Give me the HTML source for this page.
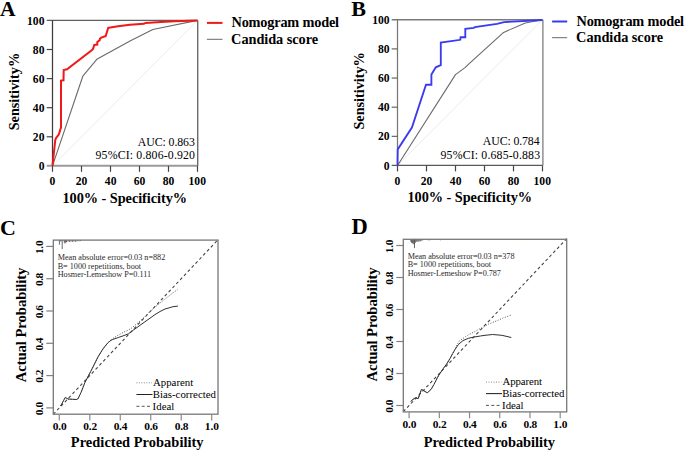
<!DOCTYPE html>
<html><head><meta charset="utf-8"><style>
html,body{margin:0;padding:0;background:#fff;width:685px;height:451px;overflow:hidden;}
svg{display:block;}
text{font-family:"Liberation Serif",serif;}
</style></head><body>
<svg width="685" height="451" viewBox="0 0 685 451" font-family="Liberation Serif">
<rect width="685" height="451" fill="#fff"/>
<line x1="52.50" y1="165.90" x2="197.50" y2="20.40" stroke="#e4e4e4" stroke-width="0.8" />
<line x1="46.70" y1="20.40" x2="197.50" y2="20.40" stroke="#606060" stroke-width="1.15" />
<line x1="197.70" y1="20.40" x2="197.70" y2="165.90" stroke="#6a6a6a" stroke-width="1.4" />
<line x1="52.50" y1="20.40" x2="52.50" y2="165.90" stroke="#3c3c3c" stroke-width="1.25" />
<line x1="46.70" y1="165.80" x2="197.50" y2="165.80" stroke="#9a9a9a" stroke-width="2.0" />
<text x="38.63" y="170.00" font-size="11.6" font-weight="bold" text-anchor="start" fill="#000">0</text>
<line x1="52.50" y1="165.90" x2="52.50" y2="171.80" stroke="#444" stroke-width="1.2" />
<text x="49.60" y="184.60" font-size="11.6" font-weight="bold" text-anchor="start" fill="#000">0</text>
<line x1="46.70" y1="136.80" x2="52.50" y2="136.80" stroke="#444" stroke-width="1.2" />
<text x="32.84" y="140.90" font-size="11.6" font-weight="bold" text-anchor="start" fill="#000">20</text>
<line x1="81.50" y1="165.90" x2="81.50" y2="171.80" stroke="#444" stroke-width="1.2" />
<text x="75.67" y="184.60" font-size="11.6" font-weight="bold" text-anchor="start" fill="#000">20</text>
<line x1="46.70" y1="107.70" x2="52.50" y2="107.70" stroke="#444" stroke-width="1.2" />
<text x="32.84" y="111.80" font-size="11.6" font-weight="bold" text-anchor="start" fill="#000">40</text>
<line x1="110.50" y1="165.90" x2="110.50" y2="171.80" stroke="#444" stroke-width="1.2" />
<text x="104.84" y="184.60" font-size="11.6" font-weight="bold" text-anchor="start" fill="#000">40</text>
<line x1="46.70" y1="78.60" x2="52.50" y2="78.60" stroke="#444" stroke-width="1.2" />
<text x="32.84" y="82.70" font-size="11.6" font-weight="bold" text-anchor="start" fill="#000">60</text>
<line x1="139.50" y1="165.90" x2="139.50" y2="171.80" stroke="#444" stroke-width="1.2" />
<text x="133.71" y="184.60" font-size="11.6" font-weight="bold" text-anchor="start" fill="#000">60</text>
<line x1="46.70" y1="49.50" x2="52.50" y2="49.50" stroke="#444" stroke-width="1.2" />
<text x="32.84" y="53.60" font-size="11.6" font-weight="bold" text-anchor="start" fill="#000">80</text>
<line x1="168.50" y1="165.90" x2="168.50" y2="171.80" stroke="#444" stroke-width="1.2" />
<text x="162.73" y="184.60" font-size="11.6" font-weight="bold" text-anchor="start" fill="#000">80</text>
<text x="27.04" y="24.50" font-size="11.6" font-weight="bold" text-anchor="start" fill="#000">100</text>
<line x1="197.50" y1="165.90" x2="197.50" y2="171.80" stroke="#444" stroke-width="1.2" />
<text x="188.55" y="184.60" font-size="11.6" font-weight="bold" text-anchor="start" fill="#000">100</text>
<polyline points="52.50,165.90 82.80,76.20 96.80,59.30 130.00,40.90 152.80,29.50 197.50,20.40" fill="none" stroke="#6a6a6a" stroke-width="1.1" stroke-linejoin="round"/>
<polyline points="52.50,165.80 55.30,139.70 56.20,137.90 58.90,134.30 61.00,127.30 61.00,80.60 63.50,80.30 63.70,70.00 67.00,69.30 92.00,50.00 93.00,48.90 94.30,45.00 97.30,44.60 97.30,42.00 99.60,40.30 100.00,38.60 101.30,37.60 105.00,36.30 105.60,36.30 108.30,27.70 109.00,27.70 118.00,26.30 130.00,24.80 143.80,23.80 145.50,22.90 160.80,22.10 175.00,21.20 197.50,20.40" fill="none" stroke="#f01818" stroke-width="2" stroke-linejoin="miter"/>
<text x="137.78" y="145.60" font-size="11.8" text-anchor="start" fill="#000" textLength="57.08" lengthAdjust="spacing">AUC: 0.863</text>
<text x="95.52" y="159.30" font-size="11.8" text-anchor="start" fill="#000" textLength="99.51" lengthAdjust="spacing">95%CI: 0.806-0.920</text>
<line x1="397.50" y1="165.50" x2="542.50" y2="19.75" stroke="#e4e4e4" stroke-width="0.8" />
<line x1="391.70" y1="19.75" x2="542.50" y2="19.75" stroke="#7a7a7a" stroke-width="1.4" />
<line x1="542.90" y1="19.75" x2="542.90" y2="165.50" stroke="#888" stroke-width="1.4" />
<line x1="397.50" y1="19.75" x2="397.50" y2="165.50" stroke="#777" stroke-width="1.25" />
<line x1="391.70" y1="165.45" x2="542.50" y2="165.45" stroke="#5a5a5a" stroke-width="1.25" />
<text x="383.83" y="169.60" font-size="11.6" font-weight="bold" text-anchor="start" fill="#000">0</text>
<line x1="397.50" y1="165.50" x2="397.50" y2="171.40" stroke="#444" stroke-width="1.2" />
<text x="394.60" y="184.50" font-size="11.6" font-weight="bold" text-anchor="start" fill="#000">0</text>
<line x1="391.70" y1="136.35" x2="397.50" y2="136.35" stroke="#666" stroke-width="1.2" />
<text x="378.03" y="140.45" font-size="11.6" font-weight="bold" text-anchor="start" fill="#000">20</text>
<line x1="426.50" y1="165.50" x2="426.50" y2="171.40" stroke="#444" stroke-width="1.2" />
<text x="420.67" y="184.50" font-size="11.6" font-weight="bold" text-anchor="start" fill="#000">20</text>
<line x1="391.70" y1="107.20" x2="397.50" y2="107.20" stroke="#666" stroke-width="1.2" />
<text x="378.04" y="111.30" font-size="11.6" font-weight="bold" text-anchor="start" fill="#000">40</text>
<line x1="455.50" y1="165.50" x2="455.50" y2="171.40" stroke="#444" stroke-width="1.2" />
<text x="449.85" y="184.50" font-size="11.6" font-weight="bold" text-anchor="start" fill="#000">40</text>
<line x1="391.70" y1="78.05" x2="397.50" y2="78.05" stroke="#666" stroke-width="1.2" />
<text x="378.03" y="82.15" font-size="11.6" font-weight="bold" text-anchor="start" fill="#000">60</text>
<line x1="484.50" y1="165.50" x2="484.50" y2="171.40" stroke="#444" stroke-width="1.2" />
<text x="478.71" y="184.50" font-size="11.6" font-weight="bold" text-anchor="start" fill="#000">60</text>
<line x1="391.70" y1="48.90" x2="397.50" y2="48.90" stroke="#666" stroke-width="1.2" />
<text x="378.03" y="53.00" font-size="11.6" font-weight="bold" text-anchor="start" fill="#000">80</text>
<line x1="513.50" y1="165.50" x2="513.50" y2="171.40" stroke="#444" stroke-width="1.2" />
<text x="507.73" y="184.50" font-size="11.6" font-weight="bold" text-anchor="start" fill="#000">80</text>
<text x="372.24" y="23.85" font-size="11.6" font-weight="bold" text-anchor="start" fill="#000">100</text>
<line x1="542.50" y1="165.50" x2="542.50" y2="171.40" stroke="#444" stroke-width="1.2" />
<text x="533.55" y="184.50" font-size="11.6" font-weight="bold" text-anchor="start" fill="#000">100</text>
<polyline points="397.50,165.50 455.50,74.60 465.00,67.60 470.00,62.90 503.60,32.40 525.30,23.00 542.50,19.75" fill="none" stroke="#6a6a6a" stroke-width="1.1" stroke-linejoin="round"/>
<polyline points="397.50,165.50 397.70,149.40 411.90,127.60 426.00,84.70 431.40,84.70 431.40,74.40 435.80,67.30 440.80,65.20 440.80,42.50 460.30,39.80 460.60,37.20 465.30,37.20 465.30,28.80 473.90,27.80 474.80,27.10 497.00,23.90 504.00,22.10 542.50,20.00" fill="none" stroke="#3a3af0" stroke-width="1.85" stroke-linejoin="miter"/>
<text x="482.78" y="145.40" font-size="11.8" text-anchor="start" fill="#000" textLength="56.79" lengthAdjust="spacing">AUC: 0.784</text>
<text x="440.52" y="159.10" font-size="11.8" text-anchor="start" fill="#000" textLength="99.54" lengthAdjust="spacing">95%CI: 0.685-0.883</text>
<line x1="206.90" y1="22.90" x2="222.50" y2="22.90" stroke="#f01818" stroke-width="2" />
<line x1="206.90" y1="39.30" x2="222.50" y2="39.30" stroke="#6a6a6a" stroke-width="1" />
<text x="231.51" y="27.30" font-size="14.3" font-weight="bold" text-anchor="start" fill="#000" textLength="107.54" lengthAdjust="spacing">Nomogram model</text>
<text x="231.12" y="44.10" font-size="14.3" font-weight="bold" text-anchor="start" fill="#000" textLength="86.96" lengthAdjust="spacing">Candida score</text>
<line x1="552.10" y1="21.50" x2="567.20" y2="21.50" stroke="#3a3af0" stroke-width="2" />
<line x1="552.10" y1="37.70" x2="567.20" y2="37.70" stroke="#6a6a6a" stroke-width="1" />
<text x="576.51" y="26.00" font-size="14.3" font-weight="bold" text-anchor="start" fill="#000" textLength="107.54" lengthAdjust="spacing">Nomogram model</text>
<text x="576.12" y="42.10" font-size="14.3" font-weight="bold" text-anchor="start" fill="#000" textLength="87.06" lengthAdjust="spacing">Candida score</text>
<text transform="translate(18.80 130.35) rotate(-90)" x="0" y="0" font-size="14.3" font-weight="bold" text-anchor="start" fill="#000" textLength="77.57" lengthAdjust="spacing">Sensitivity%</text>
<text transform="translate(363.80 129.55) rotate(-90)" x="0" y="0" font-size="14.3" font-weight="bold" text-anchor="start" fill="#000" textLength="77.37" lengthAdjust="spacing">Sensitivity%</text>
<text x="62.46" y="202.50" font-size="14.3" font-weight="bold" text-anchor="start" fill="#000" textLength="124.65" lengthAdjust="spacing">100% - Specificity%</text>
<text x="407.46" y="202.40" font-size="14.3" font-weight="bold" text-anchor="start" fill="#000" textLength="124.65" lengthAdjust="spacing">100% - Specificity%</text>
<text x="0.08" y="15.60" font-size="21.5" font-weight="bold" text-anchor="start" fill="#000" textLength="15.37" lengthAdjust="spacing">A</text>
<text x="351.31" y="15.80" font-size="22" font-weight="bold" text-anchor="start" fill="#000" textLength="14.88" lengthAdjust="spacing">B</text>
<text x="-0.14" y="234.90" font-size="22" font-weight="bold" text-anchor="start" fill="#000" textLength="17.44" lengthAdjust="spacing">C</text>
<text x="351.41" y="234.40" font-size="22.5" font-weight="bold" text-anchor="start" fill="#000" textLength="16.61" lengthAdjust="spacing">D</text>
<line x1="53.30" y1="414.26" x2="218.00" y2="239.72" stroke="#3c3c3c" stroke-width="1.05" stroke-dasharray="3 2.6"/>
<polyline points="60.50,406.00 62.10,403.40 63.50,400.60 65.30,397.40 66.30,398.10 68.10,399.00 72.70,399.30 76.30,399.50 78.00,398.80 81.20,392.10 84.80,382.80 90.70,371.50 98.30,356.40 103.00,348.90 107.00,344.00 111.30,339.40 118.30,335.10 124.00,332.00 127.70,330.40 131.70,328.00 135.00,325.30 138.30,322.60 145.00,316.50 150.00,311.50 155.00,307.00 160.00,303.00 163.90,300.00 168.90,296.00 172.00,293.50 177.50,289.70" fill="none" stroke="#555" stroke-width="1" stroke-dasharray="1 1.6"/>
<polyline points="60.50,406.00 62.10,403.40 63.50,400.60 65.30,397.40 66.30,398.10 68.10,399.00 72.70,399.30 76.30,399.50 78.00,398.80 81.20,392.10 84.80,382.80 90.70,371.50 98.30,356.40 103.00,348.90 107.00,343.80 109.80,341.00 112.90,339.40 118.30,337.50 123.00,335.90 128.40,333.80 133.80,329.80 141.00,324.60 148.00,319.60 155.00,314.60 160.00,311.50 165.00,309.00 168.00,308.20 172.90,306.70 177.90,306.10" fill="none" stroke="#303030" stroke-width="1.0" stroke-linejoin="round"/>
<line x1="59.40" y1="240.10" x2="59.40" y2="244.70" stroke="#444" stroke-width="0.8" />
<line x1="60.30" y1="240.10" x2="60.30" y2="241.30" stroke="#444" stroke-width="0.8" />
<line x1="61.20" y1="240.10" x2="61.20" y2="241.30" stroke="#444" stroke-width="0.8" />
<line x1="62.20" y1="240.10" x2="62.20" y2="249.10" stroke="#444" stroke-width="0.8" />
<line x1="64.30" y1="240.10" x2="64.30" y2="242.60" stroke="#444" stroke-width="0.8" />
<line x1="65.00" y1="240.10" x2="65.00" y2="243.50" stroke="#444" stroke-width="0.8" />
<line x1="65.70" y1="240.10" x2="65.70" y2="242.70" stroke="#444" stroke-width="0.8" />
<line x1="66.50" y1="240.10" x2="66.50" y2="242.10" stroke="#444" stroke-width="0.8" />
<line x1="68.00" y1="240.10" x2="68.00" y2="241.70" stroke="#444" stroke-width="0.8" />
<line x1="69.50" y1="240.10" x2="69.50" y2="241.90" stroke="#444" stroke-width="0.8" />
<line x1="71.00" y1="240.10" x2="71.00" y2="241.70" stroke="#444" stroke-width="0.8" />
<line x1="72.50" y1="240.10" x2="72.50" y2="241.90" stroke="#444" stroke-width="0.8" />
<line x1="74.00" y1="240.10" x2="74.00" y2="241.60" stroke="#444" stroke-width="0.8" />
<line x1="75.50" y1="240.10" x2="75.50" y2="241.70" stroke="#444" stroke-width="0.8" />
<line x1="77.00" y1="240.10" x2="77.00" y2="241.50" stroke="#444" stroke-width="0.8" />
<line x1="79.00" y1="240.10" x2="79.00" y2="241.30" stroke="#444" stroke-width="0.8" />
<line x1="80.50" y1="240.10" x2="80.50" y2="241.10" stroke="#444" stroke-width="0.8" />
<rect x="53.30" y="240.10" width="164.70" height="174.10" fill="none" stroke="#777" stroke-width="1.3"/>
<line x1="46.30" y1="407.90" x2="53.30" y2="407.90" stroke="#808080" stroke-width="1.2" />
<line x1="59.30" y1="414.20" x2="59.30" y2="420.60" stroke="#8a8a8a" stroke-width="1.2" />
<text transform="translate(43.20 415.13) rotate(-90)" x="0" y="0" font-size="11.4" font-weight="bold" text-anchor="start" fill="#000" textLength="13.25" lengthAdjust="spacing">0.0</text>
<text x="52.77" y="429.80" font-size="11.4" font-weight="bold" text-anchor="start" fill="#000" textLength="13.85" lengthAdjust="spacing">0.0</text>
<line x1="46.30" y1="375.60" x2="53.30" y2="375.60" stroke="#808080" stroke-width="1.2" />
<line x1="89.78" y1="414.20" x2="89.78" y2="420.60" stroke="#8a8a8a" stroke-width="1.2" />
<text transform="translate(43.20 382.83) rotate(-90)" x="0" y="0" font-size="11.4" font-weight="bold" text-anchor="start" fill="#000" textLength="13.31" lengthAdjust="spacing">0.2</text>
<text x="83.25" y="429.80" font-size="11.4" font-weight="bold" text-anchor="start" fill="#000" textLength="13.91" lengthAdjust="spacing">0.2</text>
<line x1="46.30" y1="343.30" x2="53.30" y2="343.30" stroke="#808080" stroke-width="1.2" />
<line x1="120.26" y1="414.20" x2="120.26" y2="420.60" stroke="#8a8a8a" stroke-width="1.2" />
<text transform="translate(43.20 350.53) rotate(-90)" x="0" y="0" font-size="11.4" font-weight="bold" text-anchor="start" fill="#000" textLength="13.03" lengthAdjust="spacing">0.4</text>
<text x="113.73" y="429.80" font-size="11.4" font-weight="bold" text-anchor="start" fill="#000" textLength="13.63" lengthAdjust="spacing">0.4</text>
<line x1="46.30" y1="311.00" x2="53.30" y2="311.00" stroke="#808080" stroke-width="1.2" />
<line x1="150.74" y1="414.20" x2="150.74" y2="420.60" stroke="#8a8a8a" stroke-width="1.2" />
<text transform="translate(43.20 318.23) rotate(-90)" x="0" y="0" font-size="11.4" font-weight="bold" text-anchor="start" fill="#000" textLength="13.17" lengthAdjust="spacing">0.6</text>
<text x="144.21" y="429.80" font-size="11.4" font-weight="bold" text-anchor="start" fill="#000" textLength="13.77" lengthAdjust="spacing">0.6</text>
<line x1="46.30" y1="278.70" x2="53.30" y2="278.70" stroke="#808080" stroke-width="1.2" />
<line x1="181.22" y1="414.20" x2="181.22" y2="420.60" stroke="#8a8a8a" stroke-width="1.2" />
<text transform="translate(43.20 285.93) rotate(-90)" x="0" y="0" font-size="11.4" font-weight="bold" text-anchor="start" fill="#000" textLength="13.20" lengthAdjust="spacing">0.8</text>
<text x="174.69" y="429.80" font-size="11.4" font-weight="bold" text-anchor="start" fill="#000" textLength="13.80" lengthAdjust="spacing">0.8</text>
<line x1="46.30" y1="246.40" x2="53.30" y2="246.40" stroke="#808080" stroke-width="1.2" />
<line x1="211.70" y1="414.20" x2="211.70" y2="420.60" stroke="#8a8a8a" stroke-width="1.2" />
<text transform="translate(43.20 254.11) rotate(-90)" x="0" y="0" font-size="11.4" font-weight="bold" text-anchor="start" fill="#000" textLength="13.74" lengthAdjust="spacing">1.0</text>
<text x="204.69" y="429.80" font-size="11.4" font-weight="bold" text-anchor="start" fill="#000" textLength="14.34" lengthAdjust="spacing">1.0</text>
<text x="57.67" y="260.10" font-size="8.2" text-anchor="start" fill="#2a2a2a" textLength="107.58" lengthAdjust="spacing">Mean absolute error=0.03 n=882</text>
<text x="57.67" y="268.80" font-size="8.2" text-anchor="start" fill="#2a2a2a" textLength="83.47" lengthAdjust="spacing">B= 1000 repetitions, boot</text>
<text x="57.67" y="277.00" font-size="8.2" text-anchor="start" fill="#2a2a2a" textLength="93.52" lengthAdjust="spacing">Hosmer-Lemeshow P=0.111</text>
<line x1="136.4" y1="382.8" x2="152.0" y2="382.8" stroke="#888" stroke-width="1" stroke-dasharray="1 1.5"/>
<line x1="136.40" y1="394.50" x2="152.50" y2="394.50" stroke="#222" stroke-width="1.05" />
<line x1="136.4" y1="406.3" x2="152.0" y2="406.3" stroke="#555" stroke-width="1" stroke-dasharray="3 2.3"/>
<text x="152.89" y="385.80" font-size="10.8" text-anchor="start" fill="#000" textLength="40.36" lengthAdjust="spacing">Apparent</text>
<text x="152.70" y="398.00" font-size="10.8" text-anchor="start" fill="#000" textLength="63.23" lengthAdjust="spacing">Bias-corrected</text>
<text x="152.62" y="409.70" font-size="10.8" text-anchor="start" fill="#000" textLength="21.67" lengthAdjust="spacing">Ideal</text>
<text transform="translate(25.90 382.35) rotate(-90)" x="0" y="0" font-size="14.8" font-weight="bold" text-anchor="start" fill="#000" textLength="114.81" lengthAdjust="spacing">Actual Probability</text>
<text x="70.85" y="446.80" font-size="14.4" font-weight="bold" text-anchor="start" fill="#000" textLength="132.69" lengthAdjust="spacing">Predicted Probability</text>
<line x1="403.30" y1="411.64" x2="566.70" y2="238.62" stroke="#3c3c3c" stroke-width="1.05" stroke-dasharray="3 2.6"/>
<polyline points="411.00,401.50 412.20,399.90 415.20,397.90 418.20,398.60 421.30,389.70 422.10,389.70 427.40,392.90 431.40,388.90 434.00,384.40 437.60,377.30 439.40,374.30 443.30,368.50 447.20,363.20 450.00,358.50 452.70,353.50 455.00,349.50 457.50,344.00 459.70,340.60 464.30,337.60 469.00,334.30 473.60,332.30 478.30,329.60 483.00,327.30 488.30,324.10 496.30,321.00 503.40,317.90 510.80,315.10" fill="none" stroke="#555" stroke-width="1" stroke-dasharray="1 1.6"/>
<polyline points="411.00,401.50 412.20,399.90 415.20,397.90 418.20,398.60 421.30,389.70 422.10,389.70 427.40,392.90 431.40,388.90 434.00,384.40 437.60,377.30 439.40,374.30 443.30,368.50 447.20,363.20 450.00,358.50 452.70,353.50 455.00,349.50 458.30,344.60 463.00,340.60 468.30,338.30 474.30,337.00 480.30,336.00 485.00,335.30 492.60,334.50 501.90,335.30 511.30,337.50" fill="none" stroke="#303030" stroke-width="1.0" stroke-linejoin="round"/>
<line x1="410.80" y1="239.30" x2="410.80" y2="241.80" stroke="#444" stroke-width="0.8" />
<line x1="411.60" y1="239.30" x2="411.60" y2="242.80" stroke="#444" stroke-width="0.8" />
<line x1="412.40" y1="239.30" x2="412.40" y2="243.30" stroke="#444" stroke-width="0.8" />
<line x1="413.20" y1="239.30" x2="413.20" y2="243.80" stroke="#444" stroke-width="0.8" />
<line x1="414.00" y1="239.30" x2="414.00" y2="244.30" stroke="#444" stroke-width="0.8" />
<line x1="414.50" y1="239.30" x2="414.50" y2="248.10" stroke="#444" stroke-width="0.8" />
<line x1="415.30" y1="239.30" x2="415.30" y2="242.80" stroke="#444" stroke-width="0.8" />
<line x1="416.20" y1="239.30" x2="416.20" y2="241.80" stroke="#444" stroke-width="0.8" />
<line x1="417.00" y1="239.30" x2="417.00" y2="241.50" stroke="#444" stroke-width="0.8" />
<line x1="418.00" y1="239.30" x2="418.00" y2="241.80" stroke="#444" stroke-width="0.8" />
<line x1="419.00" y1="239.30" x2="419.00" y2="241.30" stroke="#444" stroke-width="0.8" />
<line x1="420.00" y1="239.30" x2="420.00" y2="241.50" stroke="#444" stroke-width="0.8" />
<line x1="421.00" y1="239.30" x2="421.00" y2="241.10" stroke="#444" stroke-width="0.8" />
<line x1="422.50" y1="239.30" x2="422.50" y2="240.50" stroke="#444" stroke-width="0.8" />
<line x1="428.50" y1="239.30" x2="428.50" y2="240.30" stroke="#444" stroke-width="0.8" />
<line x1="430.00" y1="239.30" x2="430.00" y2="240.30" stroke="#444" stroke-width="0.8" />
<line x1="440.40" y1="239.30" x2="440.40" y2="240.30" stroke="#444" stroke-width="0.8" />
<rect x="403.30" y="239.30" width="163.40" height="172.60" fill="none" stroke="#777" stroke-width="1.3"/>
<line x1="396.30" y1="405.50" x2="403.30" y2="405.50" stroke="#808080" stroke-width="1.2" />
<line x1="409.10" y1="411.90" x2="409.10" y2="418.30" stroke="#8a8a8a" stroke-width="1.2" />
<text transform="translate(393.00 412.73) rotate(-90)" x="0" y="0" font-size="11.4" font-weight="bold" text-anchor="start" fill="#000" textLength="13.25" lengthAdjust="spacing">0.0</text>
<text x="402.57" y="428.30" font-size="11.4" font-weight="bold" text-anchor="start" fill="#000" textLength="13.85" lengthAdjust="spacing">0.0</text>
<line x1="396.30" y1="373.50" x2="403.30" y2="373.50" stroke="#808080" stroke-width="1.2" />
<line x1="439.32" y1="411.90" x2="439.32" y2="418.30" stroke="#8a8a8a" stroke-width="1.2" />
<text transform="translate(393.00 380.73) rotate(-90)" x="0" y="0" font-size="11.4" font-weight="bold" text-anchor="start" fill="#000" textLength="13.31" lengthAdjust="spacing">0.2</text>
<text x="432.79" y="428.30" font-size="11.4" font-weight="bold" text-anchor="start" fill="#000" textLength="13.91" lengthAdjust="spacing">0.2</text>
<line x1="396.30" y1="341.50" x2="403.30" y2="341.50" stroke="#808080" stroke-width="1.2" />
<line x1="469.54" y1="411.90" x2="469.54" y2="418.30" stroke="#8a8a8a" stroke-width="1.2" />
<text transform="translate(393.00 348.73) rotate(-90)" x="0" y="0" font-size="11.4" font-weight="bold" text-anchor="start" fill="#000" textLength="13.03" lengthAdjust="spacing">0.4</text>
<text x="463.01" y="428.30" font-size="11.4" font-weight="bold" text-anchor="start" fill="#000" textLength="13.63" lengthAdjust="spacing">0.4</text>
<line x1="396.30" y1="309.50" x2="403.30" y2="309.50" stroke="#808080" stroke-width="1.2" />
<line x1="499.76" y1="411.90" x2="499.76" y2="418.30" stroke="#8a8a8a" stroke-width="1.2" />
<text transform="translate(393.00 316.73) rotate(-90)" x="0" y="0" font-size="11.4" font-weight="bold" text-anchor="start" fill="#000" textLength="13.17" lengthAdjust="spacing">0.6</text>
<text x="493.23" y="428.30" font-size="11.4" font-weight="bold" text-anchor="start" fill="#000" textLength="13.77" lengthAdjust="spacing">0.6</text>
<line x1="396.30" y1="277.50" x2="403.30" y2="277.50" stroke="#808080" stroke-width="1.2" />
<line x1="529.98" y1="411.90" x2="529.98" y2="418.30" stroke="#8a8a8a" stroke-width="1.2" />
<text transform="translate(393.00 284.73) rotate(-90)" x="0" y="0" font-size="11.4" font-weight="bold" text-anchor="start" fill="#000" textLength="13.20" lengthAdjust="spacing">0.8</text>
<text x="523.45" y="428.30" font-size="11.4" font-weight="bold" text-anchor="start" fill="#000" textLength="13.80" lengthAdjust="spacing">0.8</text>
<line x1="396.30" y1="245.50" x2="403.30" y2="245.50" stroke="#808080" stroke-width="1.2" />
<line x1="560.20" y1="411.90" x2="560.20" y2="418.30" stroke="#8a8a8a" stroke-width="1.2" />
<text transform="translate(393.00 253.21) rotate(-90)" x="0" y="0" font-size="11.4" font-weight="bold" text-anchor="start" fill="#000" textLength="13.74" lengthAdjust="spacing">1.0</text>
<text x="553.19" y="428.30" font-size="11.4" font-weight="bold" text-anchor="start" fill="#000" textLength="14.34" lengthAdjust="spacing">1.0</text>
<text x="407.67" y="258.70" font-size="8.2" text-anchor="start" fill="#2a2a2a" textLength="106.84" lengthAdjust="spacing">Mean absolute error=0.03 n=378</text>
<text x="407.67" y="267.40" font-size="8.2" text-anchor="start" fill="#2a2a2a" textLength="83.47" lengthAdjust="spacing">B= 1000 repetitions, boot</text>
<text x="407.67" y="275.60" font-size="8.2" text-anchor="start" fill="#2a2a2a" textLength="93.25" lengthAdjust="spacing">Hosmer-Lemeshow P=0.787</text>
<line x1="486.0" y1="382.1" x2="501.5" y2="382.1" stroke="#888" stroke-width="1" stroke-dasharray="1 1.5"/>
<line x1="486.00" y1="393.60" x2="502.00" y2="393.60" stroke="#222" stroke-width="1.05" />
<line x1="486.0" y1="405.40000000000003" x2="501.5" y2="405.40000000000003" stroke="#555" stroke-width="1" stroke-dasharray="3 2.3"/>
<text x="502.39" y="385.10" font-size="10.8" text-anchor="start" fill="#000" textLength="39.72" lengthAdjust="spacing">Apparent</text>
<text x="502.20" y="397.10" font-size="10.8" text-anchor="start" fill="#000" textLength="62.23" lengthAdjust="spacing">Bias-corrected</text>
<text x="502.12" y="408.80" font-size="10.8" text-anchor="start" fill="#000" textLength="21.34" lengthAdjust="spacing">Ideal</text>
<text transform="translate(376.50 381.45) rotate(-90)" x="0" y="0" font-size="14.8" font-weight="bold" text-anchor="start" fill="#000" textLength="114.21" lengthAdjust="spacing">Actual Probability</text>
<text x="423.75" y="446.50" font-size="14.4" font-weight="bold" text-anchor="start" fill="#000" textLength="131.19" lengthAdjust="spacing">Predicted Probability</text>
</svg>
</body></html>
